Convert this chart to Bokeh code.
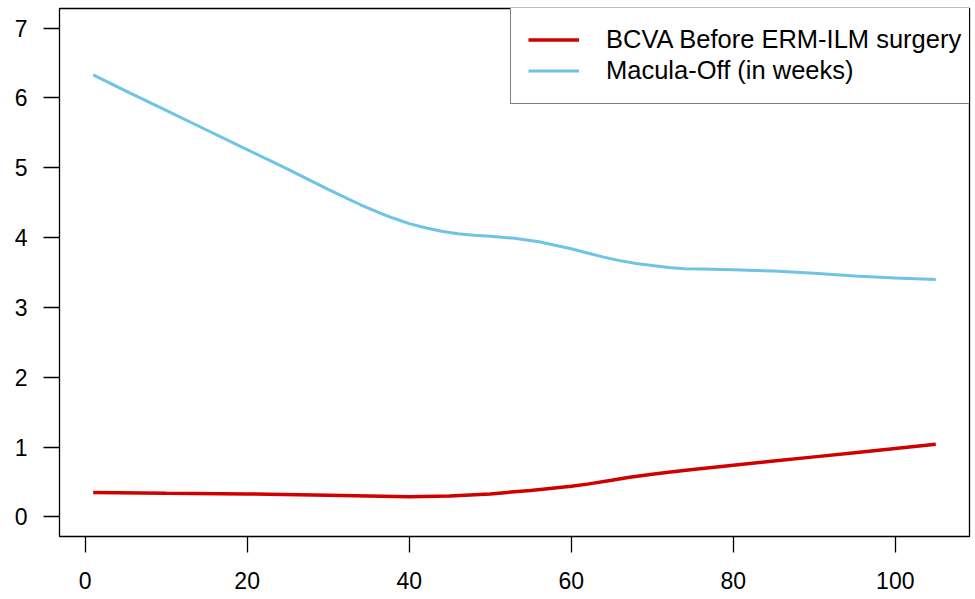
from bokeh.plotting import figure
from bokeh.models import Range1d, Legend, LegendItem, FixedTicker
from bokeh.embed import file_html
from bokeh.resources import INLINE

# Data
weeks_bcva = [1, 10, 20, 30, 40, 45, 50, 55, 60, 62, 65, 67, 70, 72, 75, 80, 85, 90, 95, 100, 105]
bcva = [0.35, 0.34, 0.33, 0.31, 0.29, 0.30, 0.33, 0.38, 0.44, 0.47, 0.525, 0.565, 0.61, 0.64, 0.68,
        0.74, 0.80, 0.86, 0.92, 0.98, 1.04]

weeks_mo = [1, 5, 10, 15, 20, 25, 30, 32, 34, 36, 38, 40, 42, 44, 46, 48, 50, 53, 56, 58, 60, 62, 64,
            66, 68, 70, 72, 74, 76, 80, 85, 90, 95, 100, 105]
macula_off = [6.33, 6.10, 5.82, 5.54, 5.26, 4.98, 4.69, 4.58, 4.47, 4.37, 4.28, 4.20, 4.14, 4.09, 4.055,
              4.035, 4.02, 3.99, 3.94, 3.89, 3.84, 3.78, 3.72, 3.67, 3.63, 3.60, 3.57, 3.555, 3.55,
              3.54, 3.52, 3.49, 3.45, 3.42, 3.40]

x_ticks = [0, 20, 40, 60, 80, 100]
y_ticks = [0, 1, 2, 3, 4, 5, 6, 7]
legend_labels = ["BCVA Before ERM-ILM surgery", "Macula-Off (in weeks)"]
colors = ["#D00000", "#6EC4E4"]

FONT = "Liberation Sans"

p = figure(width=975, height=599, output_backend="svg", toolbar_location=None,
           x_range=Range1d(-3.16, 109.16), y_range=Range1d(-0.28, 7.28),
           min_border_left=59, min_border_right=6, min_border_top=8, min_border_bottom=63)

p.background_fill_color = "white"
p.border_fill_color = "white"
p.outline_line_color = "black"
p.outline_line_width = 1.3
p.grid.visible = False

for ax in (p.xaxis[0], p.yaxis[0]):
    ax.axis_line_color = None
    ax.major_tick_in = 0
    ax.major_tick_out = 16
    ax.minor_tick_out = 0
    ax.minor_tick_in = 0
    ax.major_tick_line_color = "black"
    ax.major_tick_line_width = 1.3
    ax.major_label_text_font = FONT
    ax.major_label_text_font_size = "23px"
    ax.major_label_text_color = "black"

p.xaxis[0].ticker = FixedTicker(ticks=x_ticks)
p.yaxis[0].ticker = FixedTicker(ticks=y_ticks)
p.xaxis[0].major_label_standoff = 19
p.yaxis[0].major_label_standoff = 16
p.yaxis[0].major_label_orientation = "horizontal"

r1 = p.line(weeks_bcva, bcva, line_color=colors[0], line_width=3.5)
r2 = p.line(weeks_mo, macula_off, line_color=colors[1], line_width=3)

legend = Legend(items=[LegendItem(label=legend_labels[0], renderers=[r1]),
                       LegendItem(label=legend_labels[1], renderers=[r2])],
                location=(451, 432))
legend.border_line_color = "black"
legend.border_line_width = 1.3
legend.background_fill_color = "white"
legend.background_fill_alpha = 1
legend.padding = 17
legend.margin = 0
legend.spacing = 0
legend.label_height = 31
legend.glyph_height = 31
legend.glyph_width = 51
legend.label_standoff = 27
legend.label_text_font = FONT
legend.label_text_font_size = "25.5px"
legend.label_text_color = "black"
p.add_layout(legend, "center")

open("out.html", "w").write(file_html(p, INLINE))
